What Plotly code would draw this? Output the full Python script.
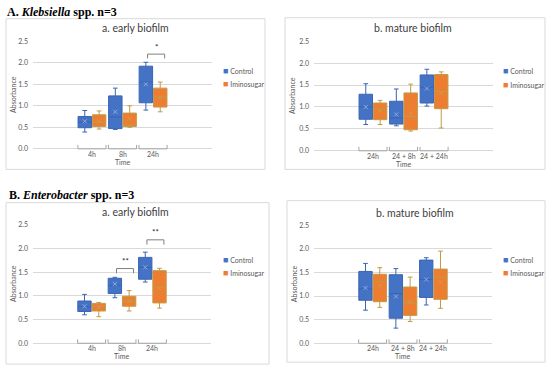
import plotly.graph_objects as go

W, H = 550, 371

# ---------------- data ----------------
early_cats = ["4h", "8h", "24h"]
mature_cats = ["24h", "24 + 8h", "24 + 24h"]

# Klebsiella early biofilm
kle_early_ctrl = dict(q1=[0.49, 0.47, 1.07], med=[0.62, 0.74, 1.55], q3=[0.75, 1.23, 1.92],
                      lo=[0.39, 0.45, 0.90], hi=[0.89, 1.41, 2.01], mean=[0.64, 0.86, 1.50])
kle_early_imino = dict(q1=[0.52, 0.52, 0.97], med=[0.62, 0.55, 1.20], q3=[0.79, 0.83, 1.41],
                       lo=[0.46, 0.50, 0.86], hi=[0.88, 1.00, 1.55], mean=[0.64, 0.70, 1.19])
# Klebsiella mature biofilm
kle_mature_ctrl = dict(q1=[0.72, 0.61, 1.09], med=[1.00, 0.75, 1.45], q3=[1.29, 1.13, 1.73],
                       lo=[0.60, 0.57, 1.02], hi=[1.53, 1.41, 1.86], mean=[1.00, 0.83, 1.42])
kle_mature_imino = dict(q1=[0.71, 0.48, 0.96], med=[0.95, 0.78, 1.35], q3=[1.09, 1.32, 1.74],
                        lo=[0.60, 0.45, 0.52], hi=[1.15, 1.52, 1.80], mean=[0.91, 0.85, 1.32])
# Enterobacter early biofilm
ent_early_ctrl = dict(q1=[0.67, 1.05, 1.35], med=[0.77, 1.22, 1.60], q3=[0.89, 1.37, 1.81],
                      lo=[0.60, 0.96, 1.29], hi=[1.03, 1.39, 1.92], mean=[0.78, 1.25, 1.60])
ent_early_imino = dict(q1=[0.68, 0.78, 0.85], med=[0.78, 0.88, 1.17], q3=[0.84, 0.99, 1.53],
                       lo=[0.56, 0.68, 0.74], hi=[0.86, 1.11, 1.58], mean=[0.76, 0.88, 1.16])
# Enterobacter mature biofilm
ent_mature_ctrl = dict(q1=[0.91, 0.53, 0.97], med=[1.15, 1.05, 1.35], q3=[1.52, 1.45, 1.76],
                       lo=[0.70, 0.32, 0.81], hi=[1.69, 1.58, 1.81], mean=[1.17, 0.99, 1.35])
ent_mature_imino = dict(q1=[0.88, 0.59, 0.93], med=[1.31, 0.85, 1.40], q3=[1.46, 1.19, 1.57],
                        lo=[0.76, 0.46, 0.74], hi=[1.60, 1.40, 1.95], mean=[1.22, 0.88, 1.29])

# significance markers: (panel, category index, label, bracket top value)
sig_marks = [("A_early", 2, "*", 2.20), ("B_early", 1, "**", 1.575), ("B_early", 2, "**", 2.18)]

series_names = ["Control", "Iminosugar"]
fill_colors = ["#4472C4", "#ED7D31"]
line_colors = ["#3A64B4", "#C29A48"]
mean_colors = ["#9FB6E2", "#C9A24A"]

# ---------------- layout helpers ----------------
def px(x):
    return x / W

def py(y):
    return 1 - y / H

FONT = "Lato, 'Open Sans', sans-serif"
OFF = 0.235
BW = 0.44
XR = [-1.93, 3.93]

panels = [
    dict(key="A_early", title="a. early biofilm", cats=early_cats, ctrl=kle_early_ctrl, imino=kle_early_imino,
         plot=(33, 212, 37, 147), frame=(6, 265, 14, 168), tpos=(135, 24), leg=(222, 67, 80)),
    dict(key="A_mature", title="b. mature biofilm", cats=mature_cats, ctrl=kle_mature_ctrl, imino=kle_mature_imino,
         plot=(314, 493, 37, 149), frame=(285, 545, 13, 168), tpos=(413, 24), leg=(502, 67, 81)),
    dict(key="B_early", title="a. early biofilm", cats=early_cats, ctrl=ent_early_ctrl, imino=ent_early_imino,
         plot=(33, 211, 224.5, 345.7), frame=(6, 269, 202, 367), tpos=(135, 212), leg=(222, 260, 273)),
    dict(key="B_mature", title="b. mature biofilm", cats=mature_cats, ctrl=ent_mature_ctrl, imino=ent_mature_imino,
         plot=(314, 492, 225, 345.7), frame=(287, 545, 200, 365), tpos=(415, 213), leg=(502, 260, 273)),
]

fig = go.Figure()
shapes = []
annotations = []
layout_axes = {}
TXT = dict(family=FONT, size=7, color="#595959")

for k, p in enumerate(panels):
    n = k + 1
    xa = "x" if n == 1 else f"x{n}"
    ya = "y" if n == 1 else f"y{n}"
    x0, x1, yt, yb = p["plot"]
    layout_axes["xaxis" if n == 1 else f"xaxis{n}"] = dict(
        domain=[px(x0), px(x1)], anchor=ya, range=XR, showgrid=False, zeroline=False,
        showline=False, showticklabels=False, ticks="", fixedrange=True)
    layout_axes["yaxis" if n == 1 else f"yaxis{n}"] = dict(
        domain=[py(yb), py(yt)], anchor=xa, range=[0, 2.5], dtick=0.5, tickformat=".1f",
        showgrid=True, gridcolor="#D9D9D9", gridwidth=1, zeroline=True, zerolinecolor="#D9D9D9",
        zerolinewidth=1, showline=False, ticks="", ticklabelstandoff=4,
        tickfont=TXT, fixedrange=True)

    for s, data in enumerate([p["ctrl"], p["imino"]]):
        sign = -1 if s == 0 else 1
        xs = [i + sign * OFF for i in range(len(p["cats"]))]
        fig.add_trace(go.Box(
            x=xs, q1=data["q1"], median=data["med"], q3=data["q3"],
            lowerfence=data["lo"], upperfence=data["hi"], width=BW,
            fillcolor=fill_colors[s], line=dict(color=line_colors[s], width=1),
            whiskerwidth=0.35, boxpoints=False, name=series_names[s], showlegend=False,
            xaxis=xa, yaxis=ya, hoverinfo="skip"))
        fig.add_trace(go.Scatter(
            x=xs, y=data["mean"], mode="markers", showlegend=False, xaxis=xa, yaxis=ya,
            marker=dict(symbol="x-thin-open", size=4, color=mean_colors[s],
                        line=dict(color=mean_colors[s], width=0.8)),
            hoverinfo="skip"))

    # category brackets under the axis + category labels
    for i, cat in enumerate(p["cats"]):
        xl, xr = i - 0.46, i + 0.46
        for seg in [((xl, yb), (xr, yb)), ((xl, yb), (xl, yb - 4)), ((xr, yb), (xr, yb - 4))]:
            shapes.append(dict(type="line", xref=xa, yref="paper",
                               x0=seg[0][0], x1=seg[1][0], y0=py(seg[0][1]), y1=py(seg[1][1]),
                               line=dict(color="#A6A6A6", width=1)))
        annotations.append(dict(text=cat, x=i, y=py(yb + 5), xref=xa, yref="paper", showarrow=False,
                                xanchor="center", yanchor="middle", font=TXT))

    # panel frame
    fx0, fx1, fy0, fy1 = p["frame"]
    shapes.append(dict(type="rect", xref="paper", yref="paper", x0=px(fx0), x1=px(fx1),
                       y0=py(fy1), y1=py(fy0), line=dict(color="#D9D9D9", width=1), layer="below"))

    # panel title
    annotations.append(dict(text=p["title"], x=px(p["tpos"][0]), y=py(p["tpos"][1]), xref="paper",
                            yref="paper", showarrow=False, xanchor="center", yanchor="middle",
                            font=dict(family=FONT, size=10.5, color="#404040")))
    # axis titles
    annotations.append(dict(text="Time", x=px((x0 + x1) / 2), y=py(yb + 13.5), xref="paper", yref="paper",
                            showarrow=False, xanchor="center", yanchor="middle", font=TXT))
    annotations.append(dict(text="Absorbance", x=px(fx0 + 7), y=py((yt + yb) / 2), xref="paper",
                            yref="paper", showarrow=False, textangle=-90, xanchor="center",
                            yanchor="middle", font=TXT))
    # legend
    lx, ly1, ly2 = p["leg"]
    for s, ly in enumerate([ly1, ly2]):
        annotations.append(dict(
            text=f'<span style="color:{fill_colors[s]};font-size:9px">■</span> {series_names[s]}',
            x=px(lx - 1), y=py(ly), xref="paper", yref="paper", showarrow=False,
            xanchor="left", yanchor="middle", font=TXT))

# significance brackets
key_to_n = {p["key"]: k + 1 for k, p in enumerate(panels)}
for key, i, label, top in sig_marks:
    n = key_to_n[key]
    xa = "x" if n == 1 else f"x{n}"
    ya = "y" if n == 1 else f"y{n}"
    xl, xr = i - 0.18, i + 0.38
    drop = 0.1
    for seg in [((xl, top), (xr, top)), ((xl, top), (xl, top - drop)), ((xr, top), (xr, top - drop))]:
        shapes.append(dict(type="line", xref=xa, yref=ya, x0=seg[0][0], x1=seg[1][0],
                           y0=seg[0][1], y1=seg[1][1], line=dict(color="#7F7F7F", width=1)))
    annotations.append(dict(text=label, x=(xl + xr) / 2, y=top + 0.01, xref=xa, yref=ya,
                            showarrow=False, xanchor="center", yanchor="bottom",
                            font=dict(family=FONT, size=8, color="#262626")))

# section headings
annotations.append(dict(text="<b>A. <i>Klebsiella</i> spp. n=3</b>", x=px(5), y=py(7.5), xref="paper",
                        yref="paper", showarrow=False, xanchor="left", yanchor="middle",
                        font=dict(family="Liberation Serif, serif", size=12, color="#000000")))
annotations.append(dict(text="<b>B. <i>Enterobacter</i> spp. n=3</b>", x=px(7), y=py(194), xref="paper",
                        yref="paper", showarrow=False, xanchor="left", yanchor="middle",
                        font=dict(family="Liberation Serif, serif", size=12, color="#000000")))

fig.update_layout(
    width=W, height=H, margin=dict(l=0, r=0, t=0, b=0),
    paper_bgcolor="white", plot_bgcolor="white", showlegend=False,
    shapes=shapes, annotations=annotations, **layout_axes)

fig.write_html("out.html", config={"displayModeBar": False},
               post_script="document.body.style.margin='0';document.body.style.padding='0';"
                           "document.body.style.overflow='hidden';")
